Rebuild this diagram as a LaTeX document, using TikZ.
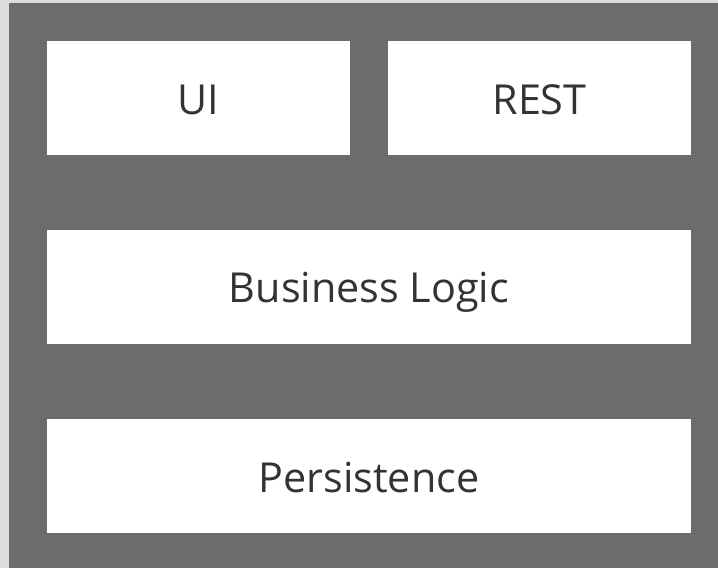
\documentclass[tikz,border=0pt]{standalone}
\usepackage{fontspec}
\setmainfont{Open Sans}
\definecolor{pagegray}{HTML}{DCDDDF}
\definecolor{layergray}{HTML}{6B6C6E}
\definecolor{textgray}{HTML}{333333}
\tikzset{
  layer/.style={fill=white, draw=none, inner sep=0pt, text=textgray,
    font=\fontsize{31pt}{36pt}\selectfont, text height=24pt, text depth=0pt,
    minimum height=85.5pt},
  half/.style={layer, minimum width=227.25pt},
  full/.style={layer, minimum width=483pt}
}

\begin{document}
\begin{tikzpicture}[x=0.75pt,y=-0.75pt]

            \fill[pagegray] (0,0) rectangle (718,568);
            \fill[layergray] (9,3) rectangle (718,568);

            \node[half] (ui) at (198.5,98) {UI};
            \node[half] (rest) at (539.5,98) {REST};
            \node[full] (logic) at (369,286.5) {Business Logic};
            \node[full] (persist) at (369,476) {Persistence};

        \end{tikzpicture}
\end{document}
